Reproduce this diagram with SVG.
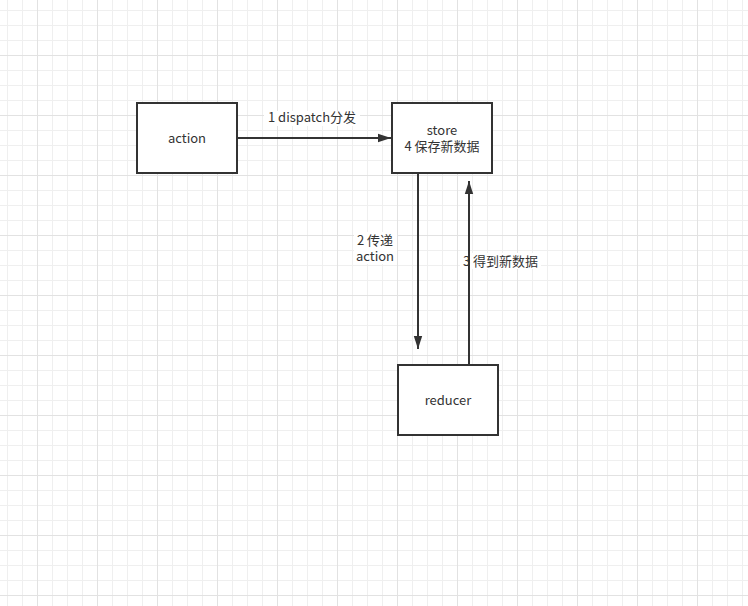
<svg xmlns="http://www.w3.org/2000/svg" width="748" height="606" viewBox="0 0 748 606">
  <defs>
    <pattern id="gridMinor" patternUnits="userSpaceOnUse" x="7" y="10" width="15" height="15">
      <path d="M0.5 0V15M0 0.5H15" fill="none" stroke="#efefef" stroke-width="1"/>
    </pattern>
    <pattern id="gridMajor" patternUnits="userSpaceOnUse" x="37" y="55" width="60" height="60">
      <path d="M0.5 0V60M0 0.5H60" fill="none" stroke="#e2e2e2" stroke-width="1"/>
    </pattern>
    <marker id="arrow" viewBox="0 0 14 10" refX="13" refY="5" markerWidth="14" markerHeight="10" markerUnits="userSpaceOnUse" orient="auto">
      <path d="M0 0.8 L13 5 L0 9.2 Z" fill="#333333"/>
    </marker>
  </defs>
  <style>
    .box { fill: #ffffff; stroke: #333333; stroke-width: 2; }
    .lbl { font-family: "Noto Sans CJK SC", "Liberation Sans", sans-serif; font-size: 13px; fill: #333333; text-anchor: middle; }
    .edge { fill: none; stroke: #333333; stroke-width: 2; }
    .lblbg { fill: #ffffff; }
  </style>

  <!-- background grid -->
  <rect width="748" height="606" fill="#ffffff"/>
  <rect width="748" height="606" fill="url(#gridMinor)"/>
  <rect width="748" height="606" fill="url(#gridMajor)"/>

  <!-- nodes -->
  <g id="node-action">
    <rect class="box" x="137" y="103" width="100" height="70"/>
    <text class="lbl" x="187" y="143">action</text>
  </g>
  <g id="node-store">
    <rect class="box" x="392" y="103" width="100" height="70"/>
    <text class="lbl" x="442" y="135">store</text>
    <text class="lbl" x="442" y="151">4 保存新数据</text>
  </g>
  <g id="node-reducer">
    <rect class="box" x="398" y="365" width="100" height="70"/>
    <text class="lbl" x="448" y="405">reducer</text>
  </g>

  <!-- connectors -->
  <g id="connectors">
    <rect class="lblbg" x="264" y="111" width="96" height="15"/>
    <rect class="lblbg" x="354" y="232" width="43" height="32"/>
    <rect class="lblbg" x="460" y="253" width="81" height="16"/>
    <path class="edge" d="M237 138 H391" marker-end="url(#arrow)"/>
    <path class="edge" d="M418 173 V349" marker-end="url(#arrow)"/>
    <path class="edge" d="M469 365 V181" marker-end="url(#arrow)"/>
    <text class="lbl" x="312" y="122">1 dispatch分发</text>
    <text class="lbl" x="375" y="245">2 传递</text>
    <text class="lbl" x="375" y="261">action</text>
    <text class="lbl" x="500.5" y="266">3 得到新数据</text>
  </g>
</svg>
